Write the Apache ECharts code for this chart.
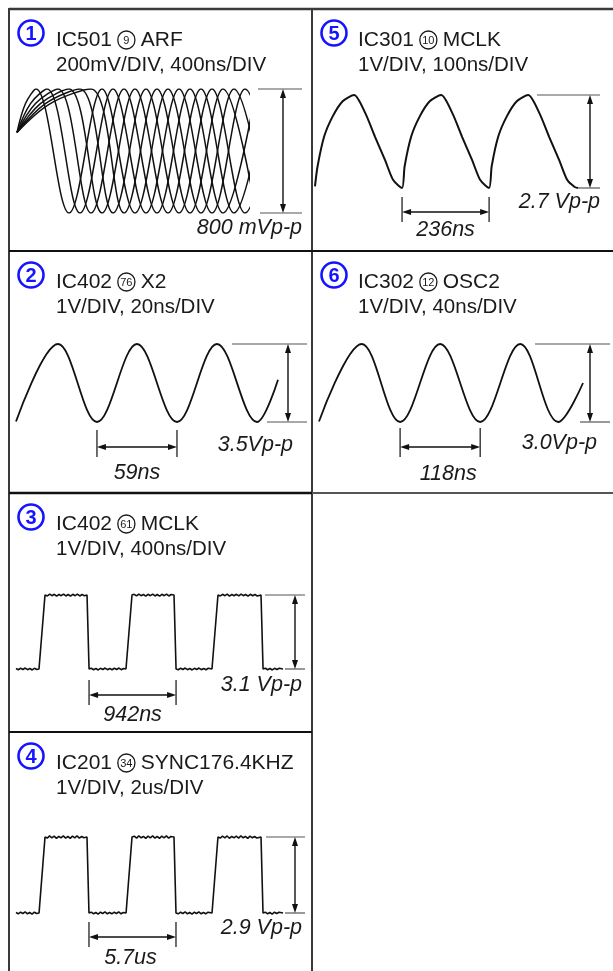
<!DOCTYPE html>
<html>
<head>
<meta charset="utf-8">
<title>Waveforms</title>
<script src="https://cdn.jsdelivr.net/npm/echarts@6/dist/echarts.min.js"></script>
<style>
html,body{margin:0;padding:0;background:#fff;}
#chart{width:613px;height:971px;}
</style>
</head>
<body>
<div id="chart"></div>
<script>
// ================= DATA =================
const panelNumbers = ['1','5','2','6','3','4'];
const chipNames    = ['IC501','IC301','IC402','IC302','IC402','IC201'];
const pinNumbers   = ['9','10','76','12','61','34'];
const signalNames  = ['ARF','MCLK','X2','OSC2','MCLK','SYNC176.4KHZ'];
const scaleTexts   = ['200mV/DIV, 400ns/DIV','1V/DIV, 100ns/DIV','1V/DIV, 20ns/DIV','1V/DIV, 40ns/DIV','1V/DIV, 400ns/DIV','1V/DIV, 2us/DIV'];
const ppTexts      = ['800 mVp-p','2.7 Vp-p','3.5Vp-p','3.0Vp-p','3.1 Vp-p','2.9 Vp-p'];
const ppValues     = [800, 2.7, 3.5, 3.0, 3.1, 2.9];
const periodTexts  = [null,'236ns','59ns','118ns','942ns','5.7us'];
const periodMarks  = [null,[236,472],[59.7,118.7],[119.5,237.5],[791,1733],[4.78,10.48]];
const timeExtents  = [2310, 713, 193.2, 389, 2891, 17.49];

// Panel 1 (ARF eye pattern): every trace leaves the same start point [ns, mV],
// passes a shoulder on its first rise [ns] at arfShoulderLevel [mV],
// then alternates peak (800 mV) / trough (0 mV) at the listed times [ns]
const arfStart = [0, 520];
const arfShoulderLevel = 706;
const arfShoulders = [85, 135, 185, 234, 284, 333];
const arfExtrema = [
  [190, 520, 850, 1180, 1510, 1840, 2170, 2500],
  [300, 630, 960, 1290, 1620, 1950, 2280, 2610],
  [410, 740, 1070, 1400, 1730, 2060, 2390],
  [520, 850, 1180, 1510, 1840, 2170, 2500],
  [630, 960, 1290, 1620, 1950, 2280, 2610],
  [740, 1070, 1400, 1730, 2060, 2390]
];

// Panel 5 (IC301 MCLK) [ns, V]
const mclk301 = [[0,0.05],[7,0.63],[25,1.5],[48,2.08],[75,2.52],[106,2.7],[136,2.18],[163,1.48],[190,0.81],[212,0.23],[236,0],
  [243,0.63],[261,1.5],[284,2.08],[311,2.52],[342,2.7],[372,2.18],[399,1.48],[426,0.81],[448,0.23],[472,0],
  [479,0.63],[497,1.5],[520,2.08],[547,2.52],[578,2.7],[608,2.18],[635,1.48],[662,0.81],[684,0.23],[704,0.03],[713,0]];

// Panel 2 (IC402 X2) [ns, V]
const x2Wave = [[0,0.02],[31,3.5],[59.7,0],[89.2,3.5],[118.7,0],[148.2,3.5],[177.7,0],[193.2,1.9]];

// Panel 6 (IC302 OSC2) [ns, V]
const osc2Wave = [[0,0.02],[63,3.0],[119.5,0],[178.5,3.0],[237.5,0],[296.5,3.0],[352.5,0],[389,1.5]];

// Panel 3 (IC402 MCLK) [ns, V]
const mclk402 = [
 [0,0.02],[25,-0.03],[50,0.03],[75,-0.02],[100,0.04],[125,-0.03],[150,0.02],[175,-0.04],[200,0.03],[225,-0.02],[249,0],
 [314,3.1],[340,3.06],[365,3.14],[390,3.07],[415,3.13],[440,3.05],[465,3.12],[490,3.07],[515,3.14],[540,3.06],[565,3.12],[590,3.05],[615,3.13],[640,3.07],[665,3.14],[690,3.06],[715,3.12],[740,3.07],[769,3.1],
 [791,0],[815,0.03],[840,-0.03],[865,0.02],[890,-0.04],[915,0.03],[940,-0.02],[965,0.04],[990,-0.03],[1015,0.02],[1040,-0.03],[1065,0.03],[1090,-0.02],[1115,0.04],[1140,-0.03],[1165,0.02],[1191,0],
 [1256,3.1],[1280,3.13],[1305,3.06],[1330,3.14],[1355,3.07],[1380,3.12],[1405,3.05],[1430,3.13],[1455,3.07],[1480,3.14],[1505,3.06],[1530,3.12],[1555,3.05],[1580,3.13],[1605,3.07],[1630,3.14],[1655,3.06],[1680,3.12],[1711,3.1],
 [1733,0],[1757,-0.03],[1782,0.03],[1807,-0.02],[1832,0.04],[1857,-0.03],[1882,0.02],[1907,-0.04],[1932,0.03],[1957,-0.02],[1982,0.04],[2007,-0.03],[2032,0.02],[2057,-0.03],[2082,0.03],[2122,0],
 [2187,3.1],[2212,3.06],[2237,3.13],[2262,3.07],[2287,3.14],[2312,3.05],[2337,3.12],[2362,3.07],[2387,3.13],[2412,3.06],[2437,3.14],[2462,3.07],[2487,3.12],[2512,3.05],[2537,3.13],[2562,3.07],[2587,3.12],[2612,3.06],[2653,3.1],
 [2675,0],[2700,0.03],[2725,-0.03],[2750,0.02],[2775,-0.04],[2800,0.03],[2825,-0.02],[2850,0.03],[2891,0]
];

// Panel 4 (IC201 SYNC 176.4kHz) [us, V]
const sync201 = [
 [0,0.02],[0.15,-0.03],[0.3,0.03],[0.45,-0.02],[0.6,0.04],[0.75,-0.03],[0.9,0.02],[1.05,-0.04],[1.2,0.03],[1.35,-0.02],[1.51,0],
 [1.9,2.9],[2.05,2.86],[2.2,2.94],[2.35,2.87],[2.5,2.93],[2.65,2.85],[2.8,2.92],[2.95,2.87],[3.1,2.94],[3.25,2.86],[3.4,2.92],[3.55,2.85],[3.7,2.93],[3.85,2.87],[4.0,2.94],[4.15,2.86],[4.3,2.92],[4.45,2.87],[4.65,2.9],
 [4.78,0],[4.93,0.03],[5.08,-0.03],[5.23,0.02],[5.38,-0.04],[5.53,0.03],[5.68,-0.02],[5.83,0.04],[5.98,-0.03],[6.13,0.02],[6.28,-0.03],[6.43,0.03],[6.58,-0.02],[6.73,0.04],[6.88,-0.03],[7.03,0.02],[7.21,0],
 [7.6,2.9],[7.75,2.93],[7.9,2.86],[8.05,2.94],[8.2,2.87],[8.35,2.92],[8.5,2.85],[8.65,2.93],[8.8,2.87],[8.95,2.94],[9.1,2.86],[9.25,2.92],[9.4,2.85],[9.55,2.93],[9.7,2.87],[9.85,2.94],[10.0,2.86],[10.15,2.92],[10.35,2.9],
 [10.48,0],[10.63,-0.03],[10.78,0.03],[10.93,-0.02],[11.08,0.04],[11.23,-0.03],[11.38,0.02],[11.53,-0.04],[11.68,0.03],[11.83,-0.02],[11.98,0.04],[12.13,-0.03],[12.28,0.02],[12.43,-0.03],[12.58,0.03],[12.84,0],
 [13.23,2.9],[13.38,2.86],[13.53,2.93],[13.68,2.87],[13.83,2.94],[13.98,2.85],[14.13,2.92],[14.28,2.87],[14.43,2.93],[14.58,2.86],[14.73,2.94],[14.88,2.87],[15.03,2.92],[15.18,2.85],[15.33,2.93],[15.48,2.87],[15.63,2.92],[15.78,2.86],[16.05,2.9],
 [16.18,0],[16.33,0.03],[16.48,-0.03],[16.63,0.02],[16.78,-0.04],[16.93,0.03],[17.08,-0.02],[17.23,0.03],[17.49,0]
];

// ================= LAYOUT (pixels) =================
const FONT = '"Liberation Sans", Arial, Helvetica, sans-serif';
const TITLE_FONT = '21px ' + FONT;
const SCALE_FONT = '20.5px ' + FONT;
const LABEL_FONT = 'italic 21.5px ' + FONT;
const cells = [
  {x:9,   y:9,   col:0}, {x:312, y:9,   col:1},
  {x:9,   y:251, col:0}, {x:312, y:251, col:1},
  {x:9,   y:493, col:0}, {x:9,   y:732, col:0}
];
const layout = [
  {grid:{left:17, top:89, width:231,height:124}, arrowX:283, topExt:[258,302], botExt:[260,302], ppAt:[302,228]},
  {grid:{left:315,top:95, width:263,height:93},  arrowX:590, topExt:[537,600], botExt:[578,600], ppAt:[600,202], tickY:[197,222], rulerY:212, perY:230, perDx:0},
  {grid:{left:16, top:344,width:262,height:78},  arrowX:288, topExt:[232,307], botExt:[267,307], ppAt:[293,445], tickY:[430,457], rulerY:447, perY:473, perDx:0},
  {grid:{left:319,top:344,width:264,height:78},  arrowX:590, topExt:[535,610], botExt:[580,610], ppAt:[597,443], tickY:[428,457], rulerY:447, perY:474, perDx:8},
  {grid:{left:16, top:595,width:267,height:74},  arrowX:295, topExt:[265,305], botExt:[285,305], ppAt:[302,685], tickY:[680,705], rulerY:695, perY:715, perDx:0},
  {grid:{left:16, top:837,width:267,height:76},  arrowX:295, topExt:[266,305], botExt:[285,305], ppAt:[302,928], tickY:[922,947], rulerY:937, perY:958, perDx:-2}
];

// ================= CHART =================
const chart = echarts.init(document.getElementById('chart'), null, {renderer:'canvas'});
const grids = [], xAxes = [], yAxes = [], series = [];
layout.forEach((L, i) => {
  grids.push(Object.assign({containLabel:false, show:false}, L.grid));
  xAxes.push({type:'value', gridIndex:i, min:0, max:timeExtents[i], show:false});
  yAxes.push({type:'value', gridIndex:i, min:0, max:ppValues[i], show:false});
});
const lineBase = {type:'line', symbol:'none', showSymbol:false, silent:true, animation:false};
arfExtrema.forEach((ext, j) => {
  const data = [arfStart, [arfShoulders[j], arfShoulderLevel]]
    .concat(ext.map((t, k) => [t, k % 2 === 0 ? ppValues[0] : 0]));
  series.push(Object.assign({}, lineBase, {xAxisIndex:0, yAxisIndex:0, clip:true, smooth:0.36,
    lineStyle:{color:'#111', width:1.5}, data:data}));
});
series.push(Object.assign({}, lineBase, {xAxisIndex:1, yAxisIndex:1, clip:false, smooth:0.25, lineStyle:{color:'#111', width:2}, data:mclk301}));
series.push(Object.assign({}, lineBase, {xAxisIndex:2, yAxisIndex:2, clip:false, smooth:0.36, lineStyle:{color:'#111', width:1.8}, data:x2Wave}));
series.push(Object.assign({}, lineBase, {xAxisIndex:3, yAxisIndex:3, clip:false, smooth:0.36, lineStyle:{color:'#111', width:1.8}, data:osc2Wave}));
series.push(Object.assign({}, lineBase, {xAxisIndex:4, yAxisIndex:4, clip:false, smooth:false, lineStyle:{color:'#111', width:1.6}, data:mclk402}));
series.push(Object.assign({}, lineBase, {xAxisIndex:5, yAxisIndex:5, clip:false, smooth:false, lineStyle:{color:'#111', width:1.6}, data:sync201}));

chart.setOption({animation:false, grid:grids, xAxis:xAxes, yAxis:yAxes, series:series});

// ---------- annotations & frame (positions computed through the axes) ----------
const G = [];
function line(x1,y1,x2,y2,stroke,w){ G.push({type:'line', silent:true, z:10, shape:{x1,y1,x2,y2}, style:{stroke, lineWidth:w}}); }
function head(x,y,dir){
  const Lh=9, W=3; let pts;
  if (dir==='up') pts=[[x,y],[x-W,y+Lh],[x+W,y+Lh]];
  else if (dir==='down') pts=[[x,y],[x-W,y-Lh],[x+W,y-Lh]];
  else if (dir==='left') pts=[[x,y],[x+Lh,y-W],[x+Lh,y+W]];
  else pts=[[x,y],[x-Lh,y-W],[x-Lh,y+W]];
  G.push({type:'polygon', silent:true, z:11, shape:{points:pts}, style:{fill:'#111'}});
}
function text(str,x,y,font,align,fill,rich){
  G.push({type:'text', silent:true, z:12, style:{text:str, x, y, font, fill:fill||'#1a1a1a', align:align||'left', verticalAlign:'middle', rich:rich}});
}
function px(g,t,v){ return chart.convertToPixel({gridIndex:g}, [t, v]); }

// frame
const FR = '#3a3a3a';
line(9,9,613,9,FR,2.4);
line(9,8,9,971,FR,2);
line(312,9,312,493,FR,2);
line(312,493,312,971,FR,2);
line(9,251,613,251,'#111',2.2);
line(9,493,312,493,'#111',2.6);
line(312,493,613,493,'#555',2);
line(9,732,312,732,'#111',2.2);

const rich = {
  t:{font:TITLE_FONT, fill:'#1a1a1a'},
  c:{fontSize:11, fontFamily:FONT, fill:'#1a1a1a', width:17, height:17, lineHeight:17, align:'center', verticalAlign:'middle',
     borderColor:'#1a1a1a', borderWidth:1.3, borderRadius:9, padding:[1,0,0,0]}
};
cells.forEach((c,i) => {
  const cx = c.col === 0 ? 31 : 334;
  const tx = c.col === 0 ? 56 : 358;
  G.push({type:'circle', silent:true, z:10, shape:{cx:cx, cy:c.y + 24, r:12.5}, style:{fill:'none', stroke:'#1414ff', lineWidth:2.6}});
  text(panelNumbers[i], cx, c.y + 25, 'bold 20px ' + FONT, 'center', '#1414ff');
  text('{t|' + chipNames[i] + ' }{c|' + pinNumbers[i] + '}{t| ' + signalNames[i] + '}', tx, c.y + 31, TITLE_FONT, 'left', '#1a1a1a', rich);
  text(scaleTexts[i], tx, c.y + 56, SCALE_FONT, 'left');
});

layout.forEach((L,i) => {
  const pTop = px(i, 0, ppValues[i]);
  const pBot = px(i, 0, 0);
  const yT = pTop[1], yB = pBot[1];
  line(L.topExt[0], yT, L.topExt[1], yT, '#555', 1.2);
  line(L.botExt[0], yB, L.botExt[1], yB, '#555', 1.2);
  line(L.arrowX, yT + 4, L.arrowX, yB - 4, '#111', 1.4);
  head(L.arrowX, yT, 'up');
  head(L.arrowX, yB, 'down');
  text(ppTexts[i], L.ppAt[0], L.ppAt[1], LABEL_FONT, 'right');
  if (periodMarks[i]) {
    const xa = px(i, periodMarks[i][0], 0)[0];
    const xb = px(i, periodMarks[i][1], 0)[0];
    line(xa, L.tickY[0], xa, L.tickY[1], '#222', 1.3);
    line(xb, L.tickY[0], xb, L.tickY[1], '#222', 1.3);
    line(xa + 4, L.rulerY, xb - 4, L.rulerY, '#111', 1.4);
    head(xa, L.rulerY, 'left');
    head(xb, L.rulerY, 'right');
    text(periodTexts[i], (xa + xb) / 2 + L.perDx, L.perY, LABEL_FONT, 'center');
  }
});

chart.setOption({graphic:{elements:G}});
</script>
</body>
</html>
